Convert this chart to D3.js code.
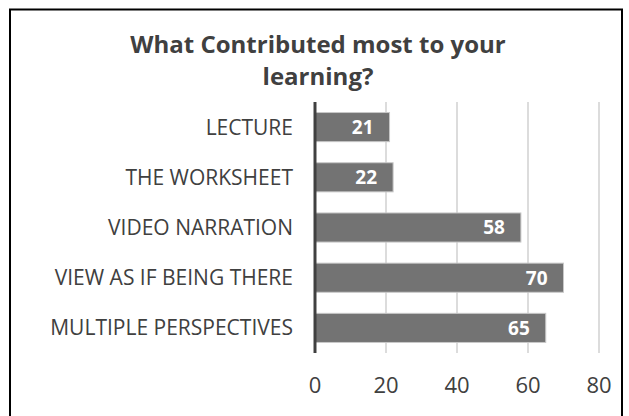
<html><head>
<script src="https://d3js.org/d3.v7.min.js"></script>
<style>
  body { margin: 0; background: #fff; }
  .grid line { stroke: #d0d0d0; stroke-width: 1.5px; }
  .lbl { font-family: "Open Sans", sans-serif; fill: #404040; }
</style>
</head>
<body>
<script>
// chart data
const categories = ["LECTURE", "THE WORKSHEET", "VIDEO NARRATION", "VIEW AS IF BEING THERE", "MULTIPLE PERSPECTIVES"];
const values = [21, 22, 58, 70, 65];
const ticks = [0, 20, 40, 60, 80];
const titleLines = ["What Contributed most to your", "learning?"];

const width = 629, height = 416;
const svg = d3.select("body").append("svg")
    .attr("width", width)
    .attr("height", height);

// outer frame (bottom edge runs off the picture)
svg.append("rect")
    .attr("x", 10).attr("y", 9.5)
    .attr("width", 612).attr("height", 420)
    .attr("fill", "#fff")
    .attr("stroke", "#000")
    .attr("stroke-width", 2);

const x = d3.scaleLinear().domain([0, 80]).range([315, 599]);
const y = d3.scaleBand().domain(categories).range([102, 353]).paddingInner(0.42).paddingOuter(0.21);

// title
svg.selectAll("text.title").data(titleLines)
    .join("text")
    .attr("class", "title lbl")
    .attr("x", 318)
    .attr("y", (d, i) => 53 + i * 32)
    .attr("text-anchor", "middle")
    .style("font-size", "24px")
    .style("font-weight", "bold")
    .text(d => d);

// gridlines
svg.append("g").attr("class", "grid")
    .selectAll("line").data(ticks.slice(1))
    .join("line")
    .attr("x1", d => x(d)).attr("x2", d => x(d))
    .attr("y1", 102).attr("y2", 353);

// bars
svg.selectAll("rect.bar").data(values)
    .join("rect")
    .attr("class", "bar")
    .attr("x", x(0))
    .attr("y", (d, i) => y(categories[i]))
    .attr("width", d => x(d) - x(0))
    .attr("height", y.bandwidth())
    .attr("fill", "#737373")
    .attr("stroke", "#c8c8c8")
    .attr("stroke-width", 1);

// value labels
svg.selectAll("text.val").data(values)
    .join("text")
    .attr("class", "val")
    .attr("x", d => x(d) - 16)
    .attr("y", (d, i) => y(categories[i]) + y.bandwidth() / 2)
    .attr("dy", "0.36em")
    .attr("text-anchor", "end")
    .style("font-family", "'Open Sans', sans-serif")
    .style("font-weight", "bold")
    .style("font-size", "19px")
    .style("fill", "#fff")
    .text(d => d);

// axis line at zero
svg.append("line")
    .attr("x1", x(0)).attr("x2", x(0))
    .attr("y1", 102).attr("y2", 353)
    .attr("stroke", "#404040")
    .attr("stroke-width", 3);

// category labels
svg.selectAll("text.cat").data(categories)
    .join("text")
    .attr("class", "cat lbl")
    .attr("x", 293)
    .attr("y", d => y(d) + y.bandwidth() / 2)
    .attr("dy", "0.36em")
    .attr("text-anchor", "end")
    .style("font-size", "21px")
    .text(d => d);

// tick labels
svg.selectAll("text.tick").data(ticks)
    .join("text")
    .attr("class", "tick lbl")
    .attr("x", d => x(d))
    .attr("y", 393)
    .attr("text-anchor", "middle")
    .style("font-size", "22px")
    .text(d => d);
</script>
</body></html>
